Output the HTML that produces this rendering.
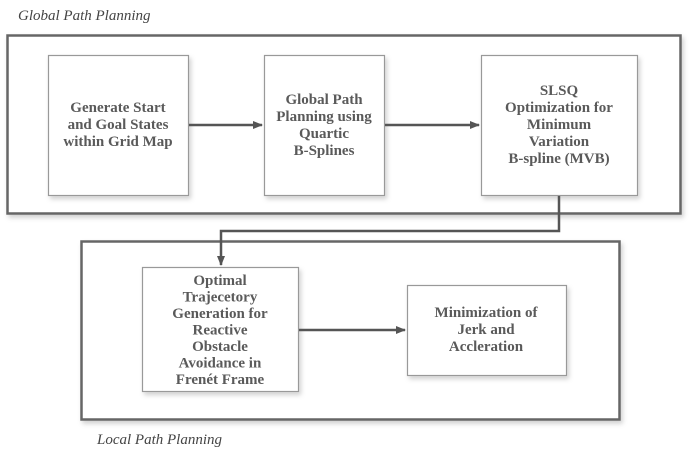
<!DOCTYPE html>
<html><head><meta charset="utf-8"><style>
html,body{margin:0;padding:0;background:#fff;width:690px;height:456px;overflow:hidden}
text{font-family:"Liberation Serif",serif;fill:#5a5a5a;font-weight:bold;font-size:15px}
.it{font-style:italic;font-weight:normal;font-size:15px;fill:#444}
</style></head><body>
<svg width="690" height="456" viewBox="0 0 690 456" xmlns="http://www.w3.org/2000/svg">
<defs>
<filter id="sh" x="-10%" y="-10%" width="130%" height="130%"><feDropShadow dx="2" dy="3" stdDeviation="2.5" flood-color="#000" flood-opacity="0.18"/></filter>
<marker id="ar" markerWidth="10" markerHeight="8" refX="9" refY="4" orient="auto" markerUnits="userSpaceOnUse"><path d="M0,0 L10,4 L0,8 z" fill="#555"/></marker>
</defs>
<text class="it" x="18" y="20">Global Path Planning</text>
<rect x="7.5" y="35.5" width="673" height="178" fill="#fff" stroke="#666" stroke-width="2.5" filter="url(#sh)"/>
<rect x="48.5" y="55.5" width="140" height="140" fill="#fff" stroke="#999" stroke-width="1.2" filter="url(#sh)"/>
<rect x="264.5" y="55.5" width="120" height="140" fill="#fff" stroke="#999" stroke-width="1.2" filter="url(#sh)"/>
<rect x="481.5" y="55.5" width="156" height="140" fill="#fff" stroke="#999" stroke-width="1.2" filter="url(#sh)"/>
<g text-anchor="middle">
<text x="118" y="112">Generate Start</text><text x="118" y="129">and Goal States</text><text x="118" y="146">within Grid Map</text>
<text x="324" y="104">Global Path</text><text x="324" y="121">Planning using</text><text x="324" y="138">Quartic</text><text x="324" y="155">B-Splines</text>
<text x="559" y="95">SLSQ</text><text x="559" y="112">Optimization for</text><text x="559" y="129">Minimum</text><text x="559" y="146">Variation</text><text x="559" y="163">B-spline  (MVB)</text>
</g>
<line x1="189" y1="125" x2="262" y2="125" stroke="#555" stroke-width="2.5" marker-end="url(#ar)"/>
<line x1="385" y1="125" x2="479" y2="125" stroke="#555" stroke-width="2.5" marker-end="url(#ar)"/>
<rect x="81.5" y="241.5" width="538" height="178" fill="#fff" stroke="#666" stroke-width="2.5" filter="url(#sh)"/>
<polyline points="559,196 559,231 221,231 221,265" fill="none" stroke="#555" stroke-width="2.5" marker-end="url(#ar)"/>
<rect x="142.5" y="267.5" width="156" height="124" fill="#fff" stroke="#999" stroke-width="1.2" filter="url(#sh)"/>
<rect x="407.5" y="285.5" width="159" height="90" fill="#fff" stroke="#999" stroke-width="1.2" filter="url(#sh)"/>
<g text-anchor="middle">
<text x="220" y="285">Optimal</text><text x="220" y="301.5">Trajecetory</text><text x="220" y="318">Generation for</text><text x="220" y="334.5">Reactive</text><text x="220" y="351">Obstacle</text><text x="220" y="367.5">Avoidance in</text><text x="220" y="384">Frenét Frame</text>
<text x="486" y="317">Minimization of</text><text x="486" y="334">Jerk and</text><text x="486" y="351">Accleration</text>
</g>
<line x1="299" y1="330" x2="405" y2="330" stroke="#555" stroke-width="2.5" marker-end="url(#ar)"/>
<text class="it" x="97" y="444">Local Path Planning</text>
</svg>
</body></html>
